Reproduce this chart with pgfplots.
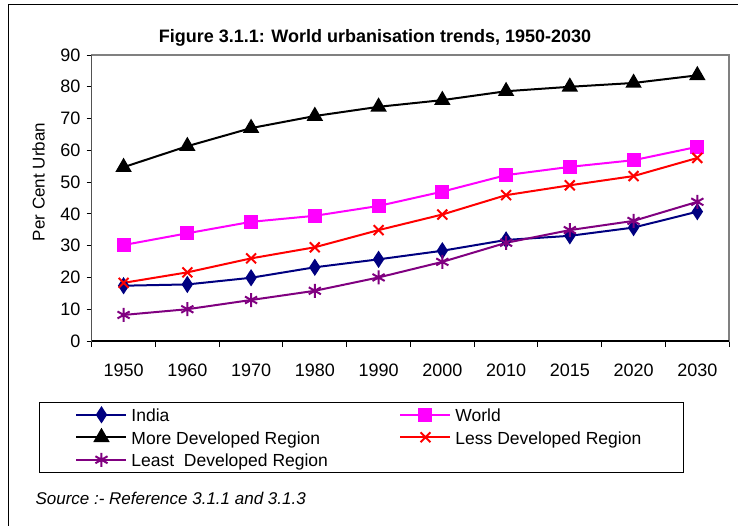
\documentclass[border=0pt]{standalone}
\usepackage{fontspec}
\setmainfont{Liberation Sans}
\usepackage{pgfplots}
\pgfplotsset{compat=1.18}
\definecolor{navyc}{RGB}{0,0,128}
\definecolor{magc}{RGB}{255,0,255}
\definecolor{purc}{RGB}{128,0,128}
\definecolor{grayc}{RGB}{128,128,128}
\begin{document}
\begin{tikzpicture}[x=1pt,y=1pt]
\useasboundingbox (0pt,0pt) rectangle (738pt,525pt);
\draw[black, line width=1pt] (8pt,-10pt) -- (8pt,520pt) -- (748pt,520pt);
\node[font=\bfseries\fontsize{18}{20}\selectfont, anchor=base] at (375pt,482.5pt) {Figure 3.1.1: World urbanisation trends, 1950-2030};
\node[font=\fontsize{17}{18}\selectfont, rotate=90] at (38.5pt,343pt) {Per Cent Urban};
\begin{axis}[
  at={(91.7pt,184pt)}, anchor=south west, scale only axis,
  width=637.5pt, height=286pt,
  xmin=-0.5, xmax=9.5, ymin=0, ymax=90,
  xtick={0,...,9},
  xticklabels={1950,1960,1970,1980,1990,2000,2010,2015,2020,2030},
  minor xtick={-0.5,0.5,...,9.5},
  ytick={0,10,...,90},
  tick align=outside, xtick pos=bottom, ytick pos=left,
  major tick length=5pt, minor tick length=6pt,
  major x tick style={draw=none},
  minor x tick style={black, line width=1pt},
  major y tick style={black, line width=1pt},
  axis line style={grayc, line width=1.5pt},
  /pgf/number format/assume math mode=true,
  tick label style={font=\fontsize{18}{20}\selectfont},
  xticklabel style={yshift=-14pt},
  yticklabel style={xshift=-2.7pt},
  legend columns=2,
  legend cell align=left,
  legend image code/.code={\draw[mark repeat=2,mark phase=2] plot coordinates {(0pt,0pt) (25pt,0pt) (50pt,0pt)};},
  legend style={
    at={(axis description cs:-0.0827,-0.2133)}, anchor=north west,
    draw=black, line width=1pt,
    inner xsep=36pt, inner ysep=4pt,
    row sep=6pt,
    font=\fontsize{17.5}{18}\selectfont,
    nodes={inner sep=0pt},
    /tikz/every odd column/.append style={column sep=4pt},
  },
]
\addplot[navyc, line width=2pt, mark=diamond*, mark size=6pt, mark options={solid, fill=navyc, yscale=1.15}]
  coordinates {(0,17.4) (1,17.8) (2,19.9) (3,23.2) (4,25.7) (5,28.4) (6,31.8) (7,33.1) (8,35.7) (9,40.7)};
\addlegendentry{\makebox[268pt][l]{\rule[-3pt]{0pt}{18pt}India}}
\addplot[magc, line width=2pt, mark=square*, mark size=6pt, mark options={solid, fill=magc}]
  coordinates {(0,30.2) (1,33.9) (2,37.5) (3,39.4) (4,42.5) (5,47.0) (6,52.2) (7,54.8) (8,56.9) (9,61.1)};
\addlegendentry{\makebox[192pt][l]{\rule[-3pt]{0pt}{18pt}World}}
\addplot[black, line width=2pt, mark=triangle*, mark size=7.5pt, mark options={solid, fill=black}]
  coordinates {(0,54.7) (1,61.3) (2,67.0) (3,70.8) (4,73.7) (5,75.8) (6,78.6) (7,80.0) (8,81.2) (9,83.6)};
\addlegendentry{\makebox[268pt][l]{\rule[-3pt]{0pt}{18pt}More Developed Region}}
\addplot[red, line width=2pt, mark=x, mark size=7pt, mark options={solid}]
  coordinates {(0,18.3) (1,21.6) (2,26.0) (3,29.5) (4,34.9) (5,39.8) (6,45.9) (7,49.0) (8,51.9) (9,57.6)};
\addlegendentry{\makebox[192pt][l]{\rule[-3pt]{0pt}{18pt}Less Developed Region}}
\addplot[purc, line width=2pt, mark=asterisk, mark size=7pt, mark options={solid}]
  coordinates {(0,8.2) (1,10.0) (2,12.9) (3,15.8) (4,20.0) (5,24.9) (6,30.9) (7,34.9) (8,37.8) (9,43.8)};
\addlegendentry{\makebox[268pt][l]{\rule[-3pt]{0pt}{18pt}Least\ \ Developed Region}}
\draw[black, line width=1.5pt] (rel axis cs:0,1) -- (rel axis cs:0,0) -- (rel axis cs:1,0);
\end{axis}
\node[font=\itshape\fontsize{17}{18}\selectfont, anchor=base west] at (32pt,21pt) {Source :- Reference 3.1.1 and 3.1.3};
\end{tikzpicture}
\end{document}
